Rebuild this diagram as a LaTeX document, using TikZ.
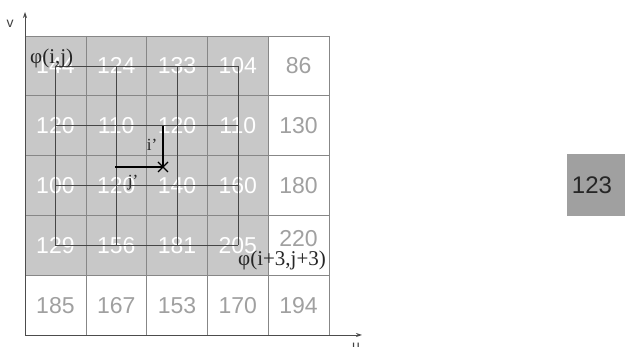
\documentclass[tikz,border=0pt]{standalone}
\usepackage{fontspec}
\setmainfont{Liberation Serif}
\setsansfont{Liberation Sans}
\usetikzlibrary{arrows.meta,calc}
\definecolor{cellgray}{RGB}{200,200,200}
\definecolor{boxgray}{RGB}{160,160,160}
\definecolor{gridline}{RGB}{135,135,135}
\definecolor{numgray}{RGB}{160,160,160}
\definecolor{centerline}{RGB}{70,70,70}
\tikzset{
  num/.style={font=\sffamily\fontsize{23}{26}\selectfont, inner sep=0pt, anchor=center},
  numin/.style={num, text=white},
  numout/.style={num, text=numgray},
  phil/.style={font=\rmfamily\fontsize{21}{24}\selectfont, inner sep=0pt, text=black!85},
  primel/.style={font=\rmfamily\fontsize{17}{20}\selectfont, inner sep=0pt, text=black!85},
  cline/.style={centerline, line width=0.6pt},
  axis/.style={black!70, line width=0.8pt, -{Stealth[length=6pt,width=4pt]}},
}
\begin{document}
\begin{tikzpicture}[x=1pt,y=-1pt]
\useasboundingbox (0,0) rectangle (625,347);
\fill[white] (0,0) rectangle (625,347);
% gray region
\fill[cellgray] (25,36) rectangle (268.2,275.2);
% grid
\foreach \k in {0,...,5} {
  \draw[gridline, line width=0.6pt] ({25+60.8*\k},36) -- ({25+60.8*\k},335);
  \draw[gridline, line width=0.6pt] (25,{36+59.8*\k}) -- (329,{36+59.8*\k});
}
% numbers
\foreach \r/\row in {0/{144,124,133,104,86},1/{120,110,120,110,130},2/{100,120,140,160,180},3/{129,156,181,205,220},4/{185,167,153,170,194}} {
  \foreach \v [count=\c from 0] in \row {
    \pgfmathsetmacro{\xc}{25+60.8*\c+30.4}
    \pgfmathsetmacro{\yc}{36+59.8*\r+29.9-((\r==3)&&(\c==4))*7}
    \ifnum\r<4 \ifnum\c<4
      \node[numin] (n-\r-\c) at (\xc,\yc) {\v};
    \else
      \node[numout] (n-\r-\c) at (\xc,\yc) {\v};
    \fi\else
      \node[numout] (n-\r-\c) at (\xc,\yc) {\v};
    \fi
  }
}
% center lines
\foreach \r in {0,...,3} {
  \draw[cline] (n-\r-0.center) -- (n-\r-3.center);
  \draw[cline] (n-0-\r.center) -- (n-3-\r.center);
}
% labels
\node[phil, anchor=west] (phia) at (30,58) {φ(i,j)};
\node[phil] (phib) at (282,260) {φ(i+3,j+3)};
% star and offsets
\coordinate (star) at (163,167);
\coordinate (hs) at (115.4,167);
\coordinate (vs) at (163,126);
\draw[black, line width=1.6pt] (hs) -- (star);
\draw[black, line width=1.6pt] (vs) -- (star);
\draw[black, line width=1.4pt] ($(star)+(-5,-5)$) -- ($(star)+(5,5)$);
\draw[black, line width=1.4pt] ($(star)+(-5,5)$) -- ($(star)+(5,-5)$);
\node[primel] (ip) at (152,145) {i'};
\node[primel] (jp) at (133,183) {j'};
% axes
\coordinate (o) at (25,335);
\coordinate (vtop) at (25,12);
\coordinate (uend) at (362,335);
\draw[axis] (o) -- (vtop);
\draw[axis] (o) -- (uend);
\node[font=\sffamily\fontsize{14}{16}\selectfont, text=black!75] (vl) at (10,24) {v};
\node[font=\sffamily\fontsize{14}{16}\selectfont, text=black!75] (ul) at (356,347) {u};
% right box
\node[fill=boxgray, minimum width=62pt, minimum height=62pt, inner sep=0pt, anchor=north west] (box) at (567,154) {};
\node[font=\sffamily\fontsize{24}{26}\selectfont, text=black!85, inner sep=0pt] (boxt) at (592,185) {123};
\end{tikzpicture}
\end{document}
